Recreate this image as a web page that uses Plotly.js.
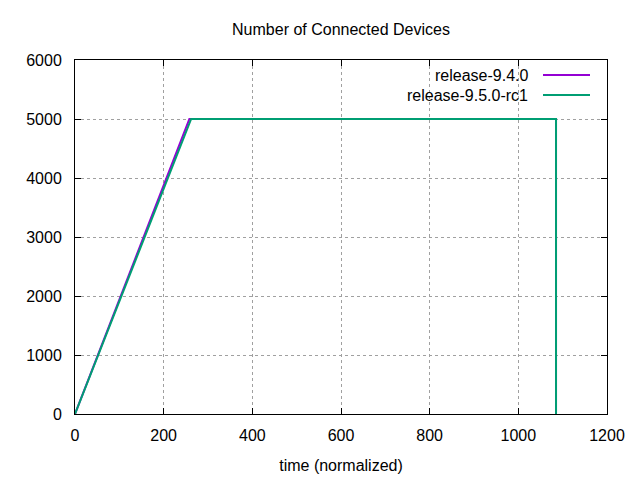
<!DOCTYPE html>
<html>
<head>
<meta charset="utf-8">
<script src="https://cdn.plot.ly/plotly-3.0.1.min.js"></script>
<style>html,body{margin:0;padding:0;background:#fff;}#chart{width:640px;height:480px;}</style>
</head>
<body>
<div id="chart"></div>
<script>
const seriesNames = ["release-9.4.0", "release-9.5.0-rc1"];
const seriesColors = ["#9400d3", "#009e73"];
const x940 = [0, 258, 1085, 1085];
const y940 = [0, 5000, 5000, 0];
const x950 = [0, 262, 1085, 1085];
const y950 = [0, 5000, 5000, 0];
const xTicks = [0, 200, 400, 600, 800, 1000, 1200];
const yTicks = [0, 1000, 2000, 3000, 4000, 5000, 6000];

const FONT = "Liberation Sans, Arial, sans-serif";
const traces = [
  {x: x940, y: y940, mode: "lines", name: seriesNames[0], line: {color: seriesColors[0], width: 2}},
  {x: x950, y: y950, mode: "lines", name: seriesNames[1], line: {color: seriesColors[1], width: 2}}
];

const axisCommon = {
  showline: true, linecolor: "#000", linewidth: 1, mirror: "ticks",
  ticks: "inside", ticklen: 6, tickcolor: "#000", tickwidth: 1,
  showgrid: true, gridcolor: "#a0a0a0", gridwidth: 1, griddash: "3px,3px",
  zeroline: false, tickfont: {family: FONT, size: 16, color: "#000"}
};

const legendY = [75, 95];
const annotations = [];
const shapes = [];
seriesNames.forEach((n, i) => {
  const yp = 1 - (legendY[i] - 60) / 354;
  annotations.push({xref: "paper", yref: "paper", x: (530 - 75) / 532, y: yp, xanchor: "right", yanchor: "middle",
    text: n, showarrow: false, font: {family: FONT, size: 16, color: "#000"}});
  shapes.push({type: "line", xref: "paper", yref: "paper", x0: (543 - 75) / 532, x1: (590 - 75) / 532, y0: yp, y1: yp,
    line: {color: seriesColors[i], width: 2}});
});

const layout = {
  width: 640, height: 480,
  margin: {l: 75, r: 33, t: 60, b: 66},
  paper_bgcolor: "#fff", plot_bgcolor: "#fff",
  showlegend: false,
  title: {text: "Number of Connected Devices", x: 0.5, xref: "paper", y: 1 - 29 / 480, yanchor: "middle",
    font: {family: FONT, size: 16, color: "#000"}},
  xaxis: Object.assign({}, axisCommon, {range: [0, 1200], tickvals: xTicks, ticklabelstandoff: 7,
    title: {text: "time (normalized)", font: {family: FONT, size: 16, color: "#000"}, standoff: 16}}),
  yaxis: Object.assign({}, axisCommon, {range: [0, 6000], tickvals: yTicks, ticklabelstandoff: 9}),
  annotations: annotations,
  shapes: shapes
};

Plotly.newPlot("chart", traces, layout, {displayModeBar: false, staticPlot: true});
</script>
</body>
</html>
